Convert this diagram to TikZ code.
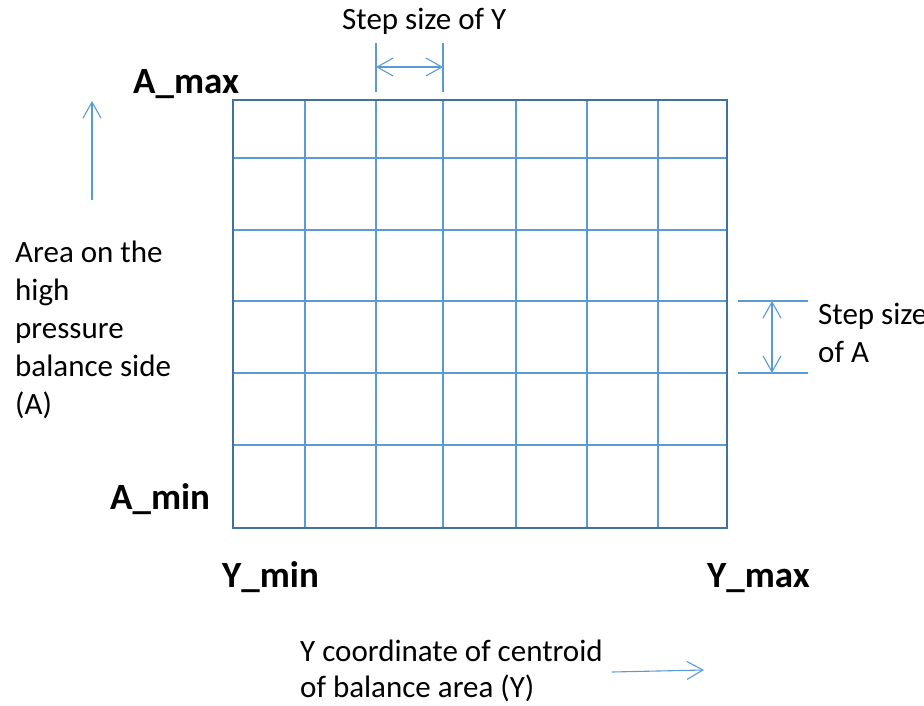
\documentclass[tikz,border=0pt]{standalone}
\usepackage{fontspec}
\setmainfont{Carlito}
\usetikzlibrary{arrows.meta}
\definecolor{gridblue}{HTML}{5B9BD5}
\definecolor{frameblue}{HTML}{41719C}

\begin{document}
\begin{tikzpicture}[x=1pt, y=-1pt,
  lbl/.style={font=\fontsize{31}{38}\selectfont, inner sep=0pt, align=left},
  blbl/.style={font=\fontsize{37}{44}\selectfont\bfseries, inner sep=0pt},
  guide/.style={gridblue, line width=1.1pt},
  barb/.style={gridblue, line width=1.1pt, -{Straight Barb[length=16pt, width=18pt]}},
  dimarrow/.style={gridblue, line width=1.1pt, {Straight Barb[length=16pt, width=18pt]}-{Straight Barb[length=16pt, width=18pt]}}]
  \useasboundingbox (0,0) rectangle (924,706);

  % Grid lines
  \foreach \x in {305,376,443,516,587,658} {
    \draw[guide] (\x,100) -- (\x,528);
  }
  \foreach \y in {158,230,301,373,445} {
    \draw[guide] (233,\y) -- (727,\y);
  }
  \draw[frameblue, line width=2.4pt] (233,100) rectangle (727,528);

  % Step size of Y
  \draw[guide] (376,43) -- (376,92);
  \draw[guide] (443,43) -- (443,92);
  \coordinate (ystepL) at (376,67);
  \coordinate (ystepR) at (443,67);
  \draw[dimarrow] (ystepL) -- (ystepR);
  \node[lbl, anchor=base west] (ysteptxt) at (342,30) {Step size of Y};

  % Step size of A
  \draw[guide] (738,301) -- (808,301);
  \draw[guide] (738,373) -- (808,373);
  \coordinate (astepT) at (772,301);
  \coordinate (astepB) at (772,373);
  \draw[dimarrow] (astepT) -- (astepB);
  \node[lbl, anchor=base west] (asteptxt) at (818,362) {Step size\\of A};

  % Axis labels
  \node[blbl, anchor=base west] (amax) at (133,94) {A\_max};
  \node[blbl, anchor=base west] (amin) at (110,509) {A\_min};
  \node[blbl, anchor=base west] (ymin) at (222,587) {Y\_min};
  \node[blbl, anchor=base west] (ymax) at (707,587) {Y\_max};

  % Direction arrows
  \coordinate (aup0) at (92,200);
  \coordinate (aup1) at (92,101);
  \draw[barb] (aup0) -- (aup1);
  \node[lbl, anchor=base west] (atxt) at (15,414) {Area on the\\high\\pressure\\balance side\\(A)};

  \coordinate (yright0) at (612,672);
  \coordinate (yright1) at (704,670);
  \draw[barb] (yright0) -- (yright1);
  \node[lbl, anchor=base west, font=\fontsize{31}{36}\selectfont] (ytxt) at (300,697) {Y coordinate of centroid\\of balance area (Y)};
\end{tikzpicture}
\end{document}
